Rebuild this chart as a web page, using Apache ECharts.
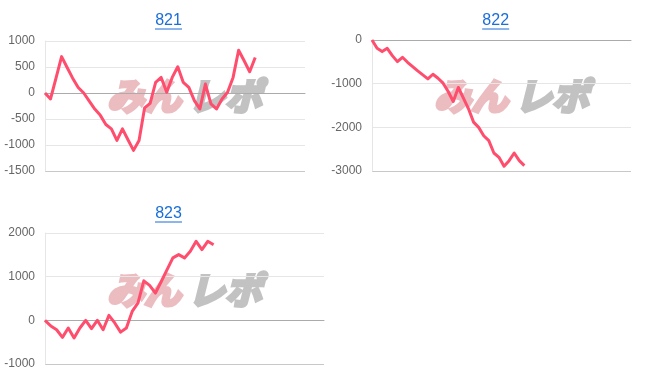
<!DOCTYPE html>
<html>
<head>
<meta charset="utf-8">
<script src="https://cdn.jsdelivr.net/npm/echarts@6/dist/echarts.min.js"></script>
<style>
html,body{margin:0;padding:0;background:#fff;}
#c{width:652px;height:382px;}
</style>
</head>
<body>
<div id="c"></div>
<script>
// ---- data ----
var titles = ['821', '822', '823'];
var slots821 = 48, slots822 = 52, slots823 = 49;
var values821 = [0, -115, 290, 700, 490, 285, 105, 0, -155, -310, -430, -606, -689, -912, -689, -899, -1103, -912, -287, -198, 204, 300, 13, 300, 504, 204, 108, -147, -306, 172, -210, -306, -115, 13, 300, 823, 619, 408, 682];
var values822 = [0, -190, -266, -190, -358, -495, -396, -510, -609, -708, -799, -890, -784, -875, -989, -1180, -1408, -1088, -1332, -1575, -1880, -2001, -2192, -2306, -2588, -2686, -2892, -2763, -2588, -2763, -2877];
var values823 = [0, -130, -215, -390, -175, -405, -175, 0, -190, 0, -215, 115, -60, -270, -175, 205, 400, 905, 800, 625, 890, 1160, 1430, 1505, 1430, 1580, 1810, 1620, 1810, 1730];
var yTicks821 = {min: -1500, max: 1000, interval: 500};
var yTicks822 = {min: -3000, max: 0, interval: 1000};
var yTicks823 = {min: -1000, max: 2000, interval: 1000};

function cats(n){ var a=[]; for(var i=0;i<n;i++) a.push(String(i)); return a; }

var LINE = '#ff4d6d';
var LINK = '#1a6ed8';
var grids = [
  {left: 45, top: 41, width: 260, height: 130},
  {left: 372, top: 40, width: 259, height: 131},
  {left: 45, top: 233, width: 279, height: 131}
];
var slotList = [slots821, slots822, slots823];
var valList = [values821, values822, values823];
var tickList = [yTicks821, yTicks822, yTicks823];

var xAxes = [], yAxes = [], series = [];
for (var i = 0; i < 3; i++) {
  var t = tickList[i];
  var nLines = Math.round((t.max - t.min) / t.interval) + 1;
  var splitColors = ['#c8c8c8'];
  for (var k = 1; k < nLines; k++) splitColors.push('#e6e6e6');
  xAxes.push({
    type: 'category', gridIndex: i, data: cats(slotList[i]), boundaryGap: false,
    axisLine: {show: true, onZero: true, lineStyle: {color: '#ababab', width: 1}},
    axisTick: {show: false}, axisLabel: {show: false}, splitLine: {show: false}
  });
  yAxes.push({
    type: 'value', gridIndex: i, min: t.min, max: t.max, interval: t.interval,
    axisLine: {show: true, lineStyle: {color: '#e6e6e6'}},
    axisTick: {show: false},
    axisLabel: {color: '#666', fontSize: 12, fontFamily: 'Liberation Sans, Arial, sans-serif', margin: 10,
      formatter: function (v) { return String(v); }},
    splitLine: {show: true, lineStyle: {color: splitColors, width: 1}}
  });
  series.push({
    type: 'line', xAxisIndex: i, yAxisIndex: i, data: valList[i],
    showSymbol: false, symbol: 'none', z: 5,
    lineStyle: {color: LINE, width: 3, join: 'round'},
    itemStyle: {color: LINE}
  });
}

var titlePos = [[168.5, 16], [495.7, 16], [168.5, 209]];
var wmPos = [[185, 96], [512, 96], [185, 290]];
var graphics = [];
for (var j = 0; j < 3; j++) {
  var tp = titlePos[j];
  graphics.push({
    type: 'text', z: 10,
    style: {text: titles[j], x: tp[0], y: tp[1] - 3, textAlign: 'center', textVerticalAlign: 'top',
      font: '16px "Liberation Sans", Arial, sans-serif', fill: LINK}
  });
  graphics.push({
    type: 'line', z: 10,
    shape: {x1: tp[0] - 13.5, y1: tp[1] + 13, x2: tp[0] + 13.5, y2: tp[1] + 13},
    style: {stroke: LINK, lineWidth: 1}
  });
  var wp = wmPos[j];
  graphics.push({
    type: 'text', z: 0, silent: true,
    style: {text: 'みん', x: wp[0] - 41, y: wp[1], textAlign: 'center', textVerticalAlign: 'middle',
      font: 'italic bold 37px "Noto Sans CJK JP", sans-serif', fill: '#ebbcc0',
      stroke: '#ebbcc0', lineWidth: 3.5}
  });
  graphics.push({
    type: 'text', z: 0, silent: true,
    style: {text: 'レポ', x: wp[0] + 40, y: wp[1], textAlign: 'center', textVerticalAlign: 'middle',
      font: 'italic bold 37px "Noto Sans CJK JP", sans-serif', fill: '#c2c2c2',
      stroke: '#c2c2c2', lineWidth: 3.5}
  });
}

var chart = echarts.init(document.getElementById('c'), null, {renderer: 'canvas'});
chart.setOption({
  animation: false,
  grid: grids,
  xAxis: xAxes,
  yAxis: yAxes,
  series: series,
  graphic: graphics
});
</script>
</body>
</html>
